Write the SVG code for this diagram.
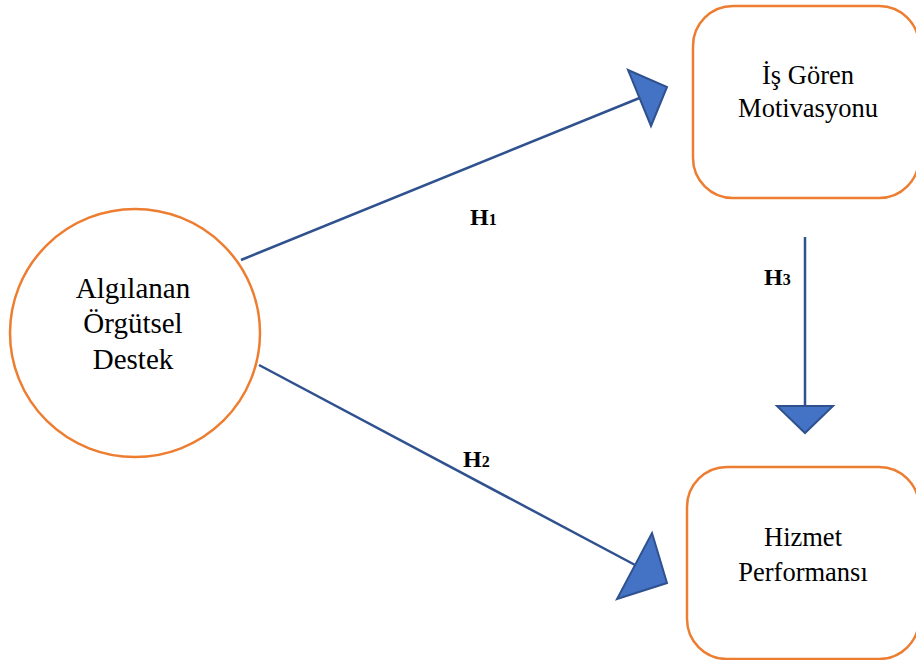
<svg xmlns="http://www.w3.org/2000/svg" width="916" height="660" viewBox="0 0 916 660">
<style>
.node{fill:#fff;stroke:#ED7D31;stroke-width:2.5}
.lbl{font-family:"Liberation Serif","Times New Roman",serif;font-size:26.5px;fill:#000;text-anchor:middle}
.big{font-size:29px}
.h{font-family:"Liberation Serif","Times New Roman",serif;font-size:24px;font-weight:bold;fill:#000}
.sub{font-size:16px}
.line{stroke:#2F528F;stroke-width:2.5;fill:none}
.head{fill:#4472C4;stroke:#2F528F;stroke-width:2;stroke-linejoin:miter}
</style>
<rect width="916" height="660" fill="#fff"/>
<g id="connectors">
<line class="line" x1="241" y1="260" x2="642" y2="97"/>
<polygon class="head" points="628,70 667,87 651,126"/>
<line class="line" x1="259" y1="365" x2="637" y2="566"/>
<polygon class="head" points="652,533 667,583 617,599"/>
<line class="line" x1="805" y1="237" x2="805" y2="406"/>
<polygon class="head" points="777,406 833,406 805,433"/>
<text class="h" x="470" y="225">H<tspan class="sub">1</tspan></text>
<text class="h" x="463" y="467">H<tspan class="sub">2</tspan></text>
<text class="h" x="764" y="285">H<tspan class="sub">3</tspan></text>
</g>
<g id="algilanan">
<ellipse class="node" cx="135" cy="333" rx="125" ry="124"/>
<text class="lbl big" x="133" y="298">Algılanan</text>
<text class="lbl big" x="133" y="333">Örgütsel</text>
<text class="lbl big" x="133" y="369">Destek</text>
</g>
<g id="isgoren">
<rect class="node" x="693" y="6" width="226" height="192" rx="40"/>
<text class="lbl" x="808" y="84">İş Gören</text>
<text class="lbl" x="808" y="117">Motivasyonu</text>
</g>
<g id="hizmet">
<rect class="node" x="687" y="467" width="232" height="192" rx="40"/>
<text class="lbl" x="803" y="546">Hizmet</text>
<text class="lbl" x="803" y="581">Performansı</text>
</g>
</svg>
